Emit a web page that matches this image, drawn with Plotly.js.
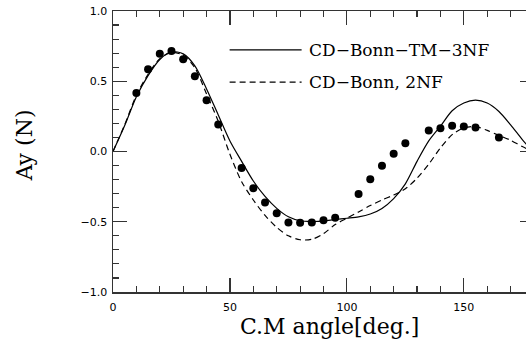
<!DOCTYPE html>
<html><head><meta charset="utf-8">
<script src="https://cdn.plot.ly/plotly-3.0.1.min.js"></script>
<style>html,body{margin:0;padding:0;overflow:hidden;background:#fff;width:526px;height:347px}</style>
</head><body><div id="chart"></div>
<script>
// C.M. angle grid for theory curves (deg)
const angles = [0,5,10,15,20,25,30,35,40,45,50,55,60,65,70,75,80,85,90,95,100,105,110,115,120,125,130,135,140,145,150,155,160,165,170,175,180];
// CD-Bonn-TM-3NF (solid)
const ay3NF = [0,0.185,0.39,0.54,0.655,0.71,0.695,0.61,0.445,0.26,0.075,-0.07,-0.21,-0.32,-0.405,-0.465,-0.493,-0.498,-0.495,-0.484,-0.475,-0.465,-0.445,-0.405,-0.335,-0.23,-0.07,0.075,0.18,0.29,0.345,0.365,0.345,0.285,0.19,0.085,-0.01];
// CD-Bonn, 2NF (dashed)
const ay2NF = [0,0.19,0.40,0.55,0.66,0.705,0.685,0.595,0.41,0.215,-0.02,-0.215,-0.345,-0.455,-0.54,-0.60,-0.628,-0.625,-0.585,-0.52,-0.475,-0.43,-0.385,-0.345,-0.31,-0.265,-0.19,-0.09,0.025,0.12,0.168,0.178,0.15,0.115,0.08,0.035,-0.005];
// Experimental data
const expAngle = [10,15,20,25,30,35,40,45,55,60,65,70,75,80,85,90,95,105,110,115,120,125,135,140,145,150,155,165];
const expAy = [0.417,0.585,0.695,0.716,0.656,0.536,0.365,0.192,-0.118,-0.261,-0.363,-0.439,-0.505,-0.507,-0.505,-0.49,-0.472,-0.303,-0.197,-0.102,-0.016,0.059,0.149,0.166,0.183,0.178,0.171,0.10];
const legendNames = ['CD\u2212Bonn\u2212TM\u22123NF','CD\u2212Bonn, 2NF'];
const xTitle = 'C.M angle[deg.]';
const yTitle = 'Ay (N)';

const serif = '"DejaVu Serif", serif';
const traces = [
  {x: angles, y: ay3NF, type:'scatter', mode:'lines', line:{color:'#000', width:1.2, shape:'spline', smoothing:0.8}, name: legendNames[0]},
  {x: angles, y: ay2NF, type:'scatter', mode:'lines', line:{color:'#000', width:1.2, dash:'6px,4px', shape:'spline', smoothing:0.8}, name: legendNames[1]},
  {x: expAngle, y: expAy, type:'scatter', mode:'markers', marker:{color:'#000', size:8}, name:'data'}
];
const axCommon = {
  showgrid:false, zeroline:false, showline:true, linecolor:'#333', linewidth:1.5,
  mirror:'ticks', ticks:'inside', ticklen:14, tickwidth:1.2, tickcolor:'#333',
  tickfont:{family:'"DejaVu Sans", sans-serif', size:11, color:'#000'},
  minor:{ticks:'inside', ticklen:6, tickwidth:1.2, tickcolor:'#333', showgrid:false}
};
const layout = {
  width:560, height:347,
  margin:{l:113, r:26, t:11, b:55},
  paper_bgcolor:'#fff', plot_bgcolor:'#fff',
  showlegend:false,
  xaxis: Object.assign({}, axCommon, {range:[0,180], tick0:0, dtick:50, minor:Object.assign({}, axCommon.minor, {dtick:10}), ticklabelstandoff:4}),
  yaxis: Object.assign({}, axCommon, {range:[-1,1], tick0:-1, dtick:0.5, tickformat:'.1f', minor:Object.assign({}, axCommon.minor, {dtick:0.1}), ticklabelstandoff:2}),
  shapes:[
    {type:'line', xref:'paper', yref:'paper', x0:0.277, x1:0.448, y0:0.862, y1:0.862, line:{color:'#000', width:1.2}},
    {type:'line', xref:'paper', yref:'paper', x0:0.277, x1:0.448, y0:0.747, y1:0.747, line:{color:'#000', width:1.2, dash:'6px,4px'}}
  ],
  annotations:[
    {xref:'paper', yref:'paper', x:0.461, y:0.862, xanchor:'left', yanchor:'middle', showarrow:false, text:legendNames[0], font:{family:serif, size:17, color:'#000'}},
    {xref:'paper', yref:'paper', x:0.461, y:0.747, xanchor:'left', yanchor:'middle', showarrow:false, text:legendNames[1], font:{family:serif, size:17, color:'#000'}},
    {xref:'paper', yref:'paper', x:0.514, y:-0.123, xanchor:'center', yanchor:'middle', showarrow:false, text:xTitle, font:{family:serif, size:22, color:'#000'}},
    {xref:'paper', yref:'paper', x:-0.2106, y:0.523, xanchor:'center', yanchor:'middle', showarrow:false, textangle:-90, text:yTitle, font:{family:serif, size:22, color:'#000'}}
  ]
};
Plotly.newPlot('chart', traces, layout, {staticPlot:true, displayModeBar:false});
</script></body></html>
